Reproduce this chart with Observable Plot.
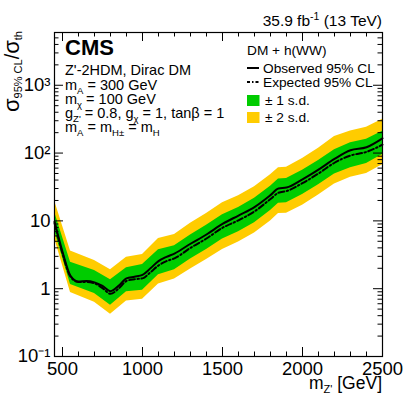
<!DOCTYPE html>
<html>
<head>
<meta charset="utf-8">
<script src="https://cdn.jsdelivr.net/npm/d3@7"></script>
<script src="https://cdn.jsdelivr.net/npm/@observablehq/plot@0.6"></script>
<style>
  html, body { margin: 0; padding: 0; background: #fff; }
  svg { display: block; overflow: visible; }
</style>
</head>
<body>
<div id="chart"></div>
<script>
// ---- data ----
const lineMass = [450,500,550,600,650,700,750,800,850,900,950,1000,1050,1100,1150,1200,1300,1400,1500,1600,1700,1800,1850,1900,2000,2100,2200,2300,2400,2500];
const observed = [9.8,3.5,1.55,1.28,1.3,1.24,1.1,0.92,1.1,1.42,1.5,1.6,2.0,2.55,2.95,3.3,4.6,6.3,9.0,12,16,24,30,31,41,57,82,110,122,165];
const expected = [9.3,3.3,1.5,1.25,1.26,1.2,1.02,0.84,1.0,1.3,1.38,1.42,1.75,2.2,2.55,2.8,4.0,5.5,7.9,10.2,13.8,21,26,27.5,36,50,72,92,104,133];

const bandMass = [450,550,700,800,900,1000,1100,1200,1300,1400,1500,1600,1700,1800,1850,1900,2000,2100,2200,2300,2400,2500];
const yellowLo = [5.6,0.88,0.63,0.42,0.66,0.70,1.17,1.39,1.95,2.7,3.8,4.9,6.6,10,12.8,13,17,24,35,44,50,67];
const greenLo  = [7.2,1.15,0.85,0.57,0.9,0.95,1.6,1.9,2.75,3.8,5.4,6.9,9.4,14.2,18.2,18.5,24.5,34,49,61,70,95];
const greenHi  = [13.6,2.46,1.85,1.35,2.03,2.27,3.76,4.3,6.2,8.6,12.3,15.8,21.5,32.5,41.5,42,56,78,112,142,160,210];
const yellowHi = [20,3.6,2.6,1.9,2.9,3.2,5.5,6.3,9.2,12.8,18.5,23.5,32,48,61,62,83,118,175,212,240,315];

const xMajor = [500,1000,1500,2000,2500];
const xMinor = [500,600,700,800,900,1000,1100,1200,1300,1400,1500,1600,1700,1800,1900,2000,2100,2200,2300,2400,2500];
const yMajor = [0.1,1,10,100,1000];
const yMajorLabels = ["10\u207B\u00B9","1","10","10\u00B2","10\u00B3"];
const yMinor = [0.2,0.3,0.4,0.5,0.6,0.7,0.8,0.9,2,3,4,5,6,7,8,9,20,30,40,50,60,70,80,90,200,300,400,500,600,700,800,900,2000,3000,4000,5000];

// ---- tables ----
const lines = lineMass.map((m,i) => ({m, obs: observed[i], exp: expected[i]}));
const bands = bandMass.map((m,i) => ({m, ylo: yellowLo[i], glo: greenLo[i], ghi: greenHi[i], yhi: yellowHi[i]}));

// ---- layout ----
const W = 407, H = 395, mL = 54, mR = 25, mT = 32, mB = 39;
const fw = W - mL - mR, fh = H - mT - mB;
const FONT = "'Liberation Sans', Arial, Helvetica, sans-serif";
const majLen = 9, minLen = 4.5;

const svg = Plot.plot({
  width: W, height: H,
  marginLeft: mL, marginRight: mR, marginTop: mT, marginBottom: mB,
  style: {fontFamily: FONT, fontSize: "18.5px", color: "black", background: "white", overflow: "visible"},
  x: {domain: [450, 2500], label: null},
  y: {type: "log", domain: [0.1, 6000], label: null},
  marks: [
    Plot.areaY(bands, {x: "m", y1: "ylo", y2: "yhi", fill: "#ffcc00"}),
    Plot.areaY(bands, {x: "m", y1: "glo", y2: "ghi", fill: "#00cc00"}),
    Plot.line(lines, {x: "m", y: "exp", stroke: "black", strokeWidth: 2, strokeDasharray: "6,2.5,1.5,2.5", curve: "monotone-x"}),
    Plot.line(lines, {x: "m", y: "obs", stroke: "black", strokeWidth: 2, curve: "monotone-x"}),
    // inward ticks, bottom & top
    Plot.ruleX(xMajor, {x: d => d, insetTop: fh - majLen, stroke: "black"}),
    Plot.ruleX(xMinor, {x: d => d, insetTop: fh - minLen, stroke: "black"}),
    Plot.ruleX(xMajor, {x: d => d, insetBottom: fh - majLen, stroke: "black"}),
    Plot.ruleX(xMinor, {x: d => d, insetBottom: fh - minLen, stroke: "black"}),
    // inward ticks, left & right
    Plot.ruleY(yMajor, {y: d => d, insetRight: fw - majLen, stroke: "black"}),
    Plot.ruleY(yMinor, {y: d => d, insetRight: fw - minLen, stroke: "black"}),
    Plot.ruleY(yMajor, {y: d => d, insetLeft: fw - majLen, stroke: "black"}),
    Plot.ruleY(yMinor, {y: d => d, insetLeft: fw - minLen, stroke: "black"}),
    Plot.frame({stroke: "black", strokeWidth: 1.2}),
    Plot.axisX({ticks: xMajor, tickSize: 0, tickPadding: 5, tickFormat: d => String(d), label: null}),
    Plot.axisY({ticks: yMajor, tickSize: 0, tickPadding: 4, tickFormat: d => yMajorLabels[yMajor.indexOf(d)], label: null})
  ]
});
document.getElementById("chart").appendChild(svg);

// ---- rich text annotations ----
const root = d3.select(svg);
function rich(x, y, parts, {size = 14.5, anchor = "start", weight = "normal", transform = null} = {}) {
  const t = root.append("text")
    .attr("x", x).attr("y", y)
    .attr("font-family", FONT).attr("font-size", size)
    .attr("font-weight", weight).attr("text-anchor", anchor).attr("fill", "black");
  if (transform) t.attr("transform", transform);
  let shift = 0;
  for (const p of parts) {
    const s = p.size || size;
    const target = p.sub ? (p.subShift ?? 3.5) : p.sup ? -(p.supShift ?? 0.4 * size) : 0;
    const span = t.append("tspan").attr("font-size", s).text(p.t);
    if (target !== shift) { span.attr("dy", target - shift); shift = target; }
  }
  return t;
}
const S = (t) => ({t});
const sub = (t, k = 9.5) => ({t, sub: true, size: k});

// luminosity
rich(382, 26, [S("35.9 fb"), {t: "-1", sup: true, size: 10.5, supShift: 6}, S(" (13 TeV)")], {size: 15.5, anchor: "end"});
// CMS
rich(65, 55, [S("CMS")], {size: 22, weight: "bold"});
// model text
rich(65, 75, [S("Z'-2HDM, Dirac DM")]);
rich(65, 90, [S("m"), sub("A"), S(" = 300 GeV")]);
rich(65, 104, [S("m"), sub("\u03C7"), S(" = 100 GeV")]);
rich(65, 118, [S("g"), sub("Z'"), S(" = 0.8, g"), sub("\u03C7"), S(" = 1, tan\u03B2 = 1")]);
rich(65, 132, [S("m"), sub("A"), S(" = m"), sub("H\u00B1"), S(" = m"), sub("H")]);

// legend
const LS = 13.7;
rich(247, 55, [S("DM + h(WW)")], {size: LS});
root.append("line").attr("x1", 247).attr("x2", 259).attr("y1", 68).attr("y2", 68)
  .attr("stroke", "black").attr("stroke-width", 2);
rich(263, 73, [S("Observed 95% CL")], {size: LS});
root.append("line").attr("x1", 247).attr("x2", 260).attr("y1", 82).attr("y2", 82)
  .attr("stroke", "black").attr("stroke-width", 2).attr("stroke-dasharray", "3,2,1.5,2");
rich(263, 87, [S("Expected 95% CL")], {size: LS});
root.append("rect").attr("x", 247).attr("y", 95).attr("width", 12.5).attr("height", 11).attr("fill", "#00cc00");
rich(265, 105, [S("\u00B1 1 s.d.")], {size: LS});
root.append("rect").attr("x", 247).attr("y", 112).attr("width", 12.5).attr("height", 11).attr("fill", "#ffcc00");
rich(265, 122, [S("\u00B1 2 s.d.")], {size: LS});

// y axis title (rotated)
rich(0, 0, [{t: "\u03C3", size: 22}, {t: "95% CL", sub: true, size: 11, subShift: 3}, {t: "/", size: 20}, {t: "\u03C3", size: 22}, {t: "th", sub: true, size: 11, subShift: 3}],
  {size: 22, anchor: "end", transform: "translate(19,31) rotate(-90)"});

// x axis title
rich(382, 389, [S("m"), {t: "Z'", sub: true, size: 11, subShift: 4}, S(" [GeV]")], {size: 17.5, anchor: "end"});
</script>
</body>
</html>
